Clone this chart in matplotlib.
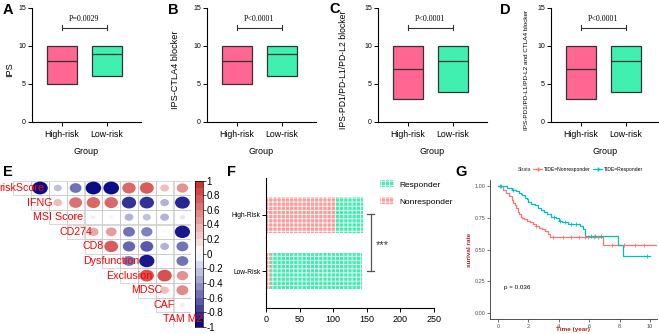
import numpy as np
import matplotlib
matplotlib.use("Agg")
import matplotlib.pyplot as plt
from matplotlib.patches import Ellipse, Rectangle
from matplotlib.colors import LinearSegmentedColormap, Normalize
from matplotlib.lines import Line2D

plt.rcParams['font.family'] = ['Liberation Sans', 'DejaVu Sans']
plt.rcParams['hatch.linewidth'] = 0.6

W, H = 659, 334


def rect(x0, y0, x1, y1):
    # pixel box (top-left origin) -> figure fraction
    return [x0 / W, 1 - y1 / H, (x1 - x0) / W, (y1 - y0) / H]


# ---- panels A-D: IPS boxes ----
groups = ['High-risk', 'Low-risk']
ips_ylabels = ['IPS', 'IPS-CTLA4 blocker', 'IPS-PD1/PD-L1/PD-L2 blocker',
               'IPS-PD1/PD-L1/PD-L2 and CTLA4 blocker']
ips_pvals = ['P=0.0029', 'P<0.0001', 'P<0.0001', 'P<0.0001']
# (q1, median, q3)
ips_high = [(5, 8, 10), (5, 8, 10), (3, 7, 10), (3, 7, 10)]
ips_low = [(6, 9, 10), (6, 9, 10), (4, 8, 10), (4, 8, 10)]

# ---- panel E: correlations (upper triangle, row by row) ----
corr_vars = ['riskScore', 'IFNG', 'MSI Score', 'CD274', 'CD8', 'Dysfunction',
             'Exclusion', 'MDSC', 'CAF', 'TAM M2']
corr_upper = [
    [-0.95, -0.25, -0.55, -0.95, -0.95, 0.7, 0.75, 0.3, 0.5],
    [0.3, 0.65, 0.7, 0.7, -0.8, -0.8, -0.3, -0.85],
    [0.15, 0.08, 0.05, -0.3, -0.25, -0.3, -0.1],
    [0.4, 0.45, -0.55, -0.5, -0.03, -0.9],
    [0.75, -0.6, -0.65, -0.3, -0.55],
    [-0.55, -0.9, -0.03, -0.55],
    [0.8, 0.8, 0.5],
    [0.3, 0.55],
    [0.1],
]

# ---- panel F: TIDE response ----
risk_groups = ['Low-Risk', 'High-Risk']
nonresponder = [8, 102]
responder = [135, 43]

# ---- panel G: KM curves ----
nonresp_t = [0, 0.3, 0.5, 0.7, 0.9, 1.0, 1.1, 1.2, 1.3, 1.4, 1.5, 1.6, 1.7, 1.9,
             2.1, 2.3, 2.5, 2.7, 2.9, 3.1, 3.3, 3.4, 6.9, 10.4]
nonresp_s = [1.0, 0.97, 0.95, 0.92, 0.89, 0.87, 0.85, 0.83, 0.80, 0.78, 0.76, 0.75,
             0.74, 0.73, 0.72, 0.70, 0.69, 0.67, 0.66, 0.65, 0.62, 0.60, 0.54, 0.54]
nonresp_cens = [2.5, 3.6, 4.3, 4.8, 5.3, 5.7, 5.9, 6.3, 6.6, 7.5, 8.3, 9.0, 9.6]
resp_t = [0, 0.6, 0.9, 1.2, 1.4, 1.5, 1.6, 1.75, 1.9, 2.0, 2.2, 2.4, 2.6, 2.8, 3.0,
          3.2, 3.5, 3.8, 4.0, 4.2, 4.6, 5.4, 5.6, 5.7, 7.9, 8.2, 10.0]
resp_s = [1.0, 0.99, 0.97, 0.96, 0.95, 0.94, 0.93, 0.91, 0.90, 0.88, 0.86, 0.85,
          0.83, 0.81, 0.80, 0.78, 0.76, 0.75, 0.73, 0.72, 0.70, 0.69, 0.66, 0.61,
          0.535, 0.45, 0.45]
resp_cens = [0.1, 0.2, 1.0, 3.7, 4.1, 4.4, 4.8, 5.1, 6.1, 6.4, 6.8, 9.8]

pink, mint = '#FF6692', '#40F0B0'

fig = plt.figure(figsize=(6.59, 3.34), dpi=100)

box_x0 = [32, 207, 378, 551]
ylab_x = [10, 175, 344, 527]
ylab_size = [6.6, 6.6, 6.2, 4.6]
for k in range(4):
    x0 = box_x0[k]
    ax = fig.add_axes(rect(x0, 8, x0 + 109, 122))
    stats = []
    for q in (ips_high[k], ips_low[k]):
        stats.append(dict(q1=q[0], med=q[1], q3=q[2], whislo=q[0], whishi=q[2], fliers=[]))
    bp = ax.bxp(stats, positions=[0, 1], widths=0.66, patch_artist=True,
                showcaps=False, showfliers=False,
                boxprops=dict(linewidth=0.9, edgecolor='#333333'),
                medianprops=dict(color='#333333', linewidth=0.9),
                whiskerprops=dict(linewidth=0))
    for patch, c in zip(bp['boxes'], [pink, mint]):
        patch.set_facecolor(c)
    ax.set_xlim(-0.66, 1.75)
    ax.set_ylim(0, 15)
    for s in ['top', 'right']:
        ax.spines[s].set_visible(False)
    for s in ['left', 'bottom']:
        ax.spines[s].set_linewidth(0.8)
    ax.set_yticks([0, 5, 10, 15])
    ax.set_xticks([0, 1])
    ax.set_xticklabels(groups, fontsize=6.3)
    ax.tick_params(axis='y', labelsize=5, length=3, width=0.7, pad=1.5)
    ax.tick_params(axis='x', length=3, width=0.7, pad=3)
    ax.set_xlabel('Group', fontsize=6.5, va='center')
    ax.xaxis.set_label_coords(0.5, -30 / 114)
    ax.set_ylabel(ips_ylabels[k], fontsize=ylab_size[k], va='center')
    ax.yaxis.set_label_coords((ylab_x[k] - x0) / 109, 0.5 - 5 / 114)
    ax.plot([0, 1], [12.4, 12.4], color='#333333', lw=0.8)
    for xe in (0, 1):
        ax.plot([xe, xe], [12.1, 12.7], color='#333333', lw=0.8)
    ax.text(0.5, 13.5, ips_pvals[k], family=['Liberation Serif'], ha='center',
            va='center', fontsize=5.8)

for letter, (lx, ly) in zip('ABCDEFG', [(3, 10), (168, 10), (329, 9), (500, 10),
                                        (3, 172), (227, 172), (455, 172)]):
    fig.text(lx / W, 1 - ly / H, letter, fontsize=10.5, fontweight='bold', va='center')

# ---- E ----
cmap = LinearSegmentedColormap.from_list('nwf', ['navy', 'white', '#CD2626'])
norm = Normalize(-1, 1)

cax = fig.add_axes(rect(195, 180.7, 202.5, 326.7))
edges = np.linspace(-1, 1, 21)
centers = (edges[:-1] + edges[1:]) / 2
cax.pcolormesh([0, 1], edges, centers.reshape(-1, 1), cmap=cmap, norm=norm)
cax.set_xticks([])
cax.yaxis.tick_right()
cb_ticks = np.round(np.arange(-1, 1.01, 0.2), 1)
cax.set_yticks(cb_ticks)
cax.set_yticklabels(['%g' % (0 if abs(v) < 1e-9 else v) for v in cb_ticks])
cax.tick_params(axis='y', labelsize=7, length=2, width=0.5, pad=1)
for s in cax.spines.values():
    s.set_linewidth(0.5)

axE = fig.add_axes(rect(13.3, 180.7, 191.3, 326.7))
axE.set_xlim(0.5, 10.5)
axE.set_ylim(10.5, 0.5)
axE.axis('off')
n = len(corr_vars)
for i in range(1, n + 1):
    for j in range(i, n + 1):
        axE.add_patch(Rectangle((j - 0.5, i - 0.5), 1, 1, fill=False,
                                edgecolor='#C8C8C8', lw=0.5))
for i, row in enumerate(corr_upper, start=1):
    for off, r in enumerate(row):
        j = i + 1 + off
        d = 0.9 * np.sqrt(abs(r))
        axE.add_patch(Ellipse((j, i), d, d, facecolor=cmap(norm(r)), edgecolor='none'))
for i, name in enumerate(corr_vars, start=1):
    axE.text(i, i, name, color='red', fontsize=7.7, ha='center', va='center',
             clip_on=False, zorder=5)
axE.set_zorder(3)

# ---- F ----
axF = fig.add_axes(rect(266, 178, 434, 308))
ypos = np.arange(len(risk_groups))
b_non = axF.barh(ypos, nonresponder, height=0.64, color='#FF9A9A', edgecolor='white',
                 linewidth=0, hatch='++++')
b_res = axF.barh(ypos, responder, left=nonresponder, height=0.64, color='#3EEFB0',
                 edgecolor='white', linewidth=0, hatch='++++')
axF.set_xlim(0, 250)
axF.set_ylim(-0.66, 1.66)
axF.set_xticks([0, 50, 100, 150, 200, 250])
axF.set_yticks(ypos)
axF.set_yticklabels(risk_groups, fontsize=4.8)
axF.tick_params(axis='x', labelsize=6.5, length=3, width=0.7, pad=2)
axF.tick_params(axis='y', length=3, width=0.7, pad=1)
for s in ['top', 'right']:
    axF.spines[s].set_visible(False)
for s in ['left', 'bottom']:
    axF.spines[s].set_linewidth(0.8)
axF.plot([156, 156], [0, 1.02], color='#555555', lw=0.9)
for yy in (0, 1.02):
    axF.plot([151, 161], [yy, yy], color='#555555', lw=0.9)
axF.text(173, 0.46, '***', fontsize=8, ha='center', va='center', color='#333333')
axF.legend([b_res, b_non], ['Responder', 'Nonresponder'], loc='upper left',
           bbox_to_anchor=(380 / W, 1 - 180 / H), bbox_transform=fig.transFigure,
           frameon=False, fontsize=6, handlelength=1.7, handleheight=1.0,
           handletextpad=0.6, labelspacing=1.0, borderpad=0, borderaxespad=0)

# ---- G ----
axG = fig.add_axes(rect(490, 180, 657, 319))
red_c, blue_c = '#F8766D', '#00BFC4'
axG.step(nonresp_t, nonresp_s, where='post', color=red_c, lw=0.9)
axG.step(resp_t, resp_s, where='post', color=blue_c, lw=0.9)


def surv_at(ts, ss, t):
    idx = np.searchsorted(ts, t, side='right') - 1
    return np.asarray(ss)[idx]


axG.plot(nonresp_cens, surv_at(nonresp_t, nonresp_s, nonresp_cens), '+', color=red_c, ms=3, mew=0.6)
axG.plot(resp_cens, surv_at(resp_t, resp_s, resp_cens), '+', color=blue_c, ms=3, mew=0.6)
axG.set_xlim(-0.53, 10.46)
axG.set_ylim(-0.048, 1.05)
axG.set_xticks([0, 2, 4, 6, 8, 10])
axG.set_yticks([0, 0.25, 0.5, 0.75, 1.0])
axG.set_yticklabels(['0.00', '0.25', '0.50', '0.75', '1.00'])
axG.tick_params(labelsize=4.0, length=2, width=0.5, colors='#333333', labelcolor='#4D4D4D', pad=1.5)
for s in ['top', 'right']:
    axG.spines[s].set_visible(False)
for s in ['left', 'bottom']:
    axG.spines[s].set_linewidth(0.6)
    axG.spines[s].set_color('#333333')
axG.set_ylabel('surival rate', fontsize=4.6, color='#B22222', fontweight='bold', va='center')
axG.yaxis.set_label_coords((470 - 490) / 167, 0.5)
axG.set_xlabel('Time (year)', fontsize=4.6, color='#B22222', fontweight='bold', va='center')
axG.xaxis.set_label_coords((573 - 490) / 167, -11 / 139)
axG.text(0.4, 0.2, 'p = 0.036', fontsize=4.5, va='center')
fig.text(525 / W, 1 - 169 / H, 'Strata', fontsize=3.6, ha='center', va='center', color='#333333')
handles = [Line2D([], [], color=red_c, lw=0.8, marker='+', ms=2.5),
           Line2D([], [], color=blue_c, lw=0.8, marker='+', ms=2.5)]
fig.legend(handles, ['TIDE=Nonresponder', 'TIDE=Responder'], loc='center left',
           bbox_to_anchor=(533 / W, 1 - 169 / H), ncol=2, frameon=False, fontsize=3.6,
           handlelength=1.8, handletextpad=0.3, columnspacing=0.6, borderpad=0,
           borderaxespad=0)

fig.savefig('out.png', dpi=100)
